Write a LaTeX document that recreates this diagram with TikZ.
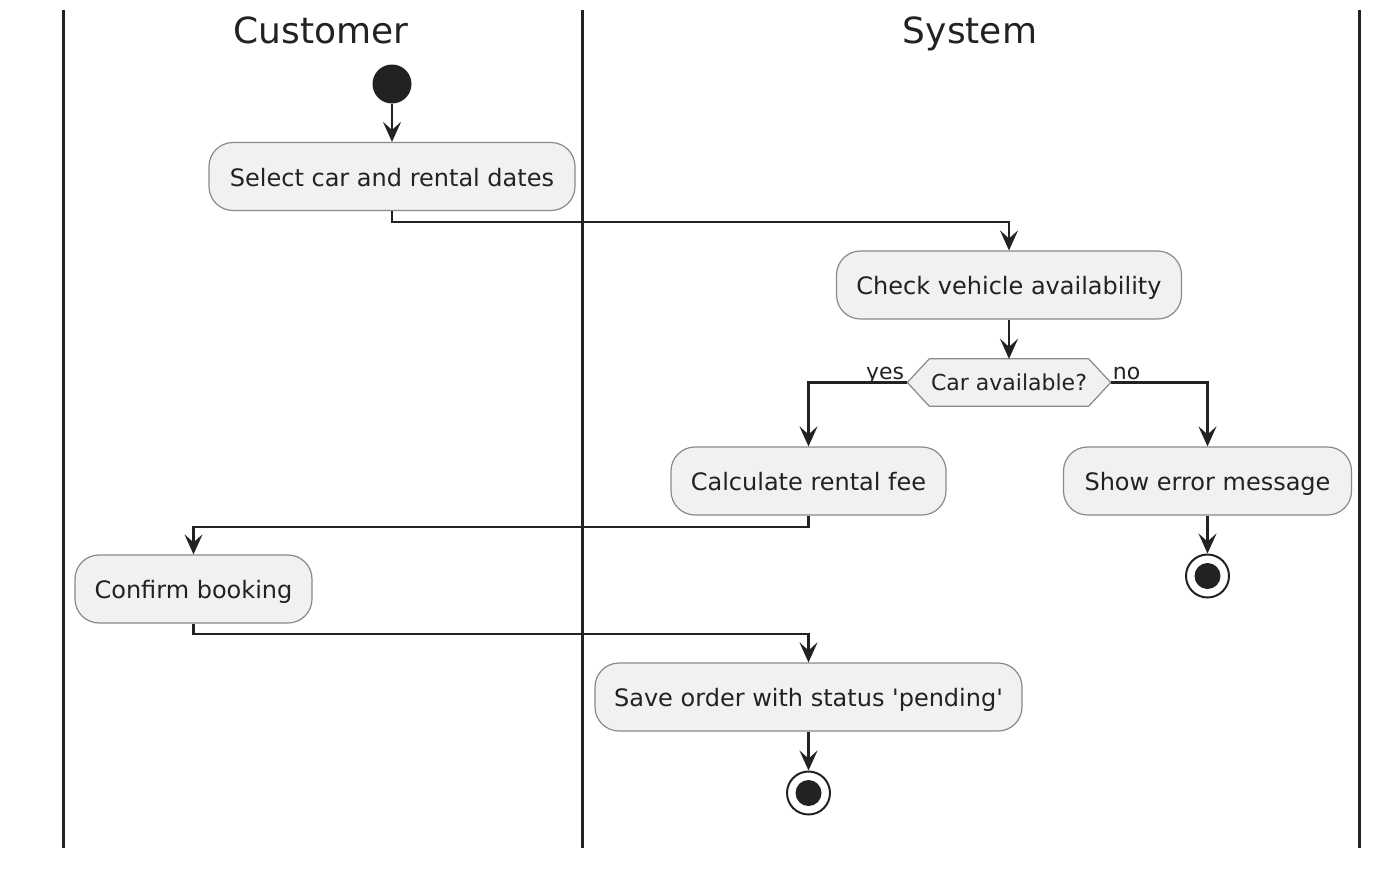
\documentclass[tikz,border=0pt]{standalone}
\usepackage{fontspec}
\setmainfont{DejaVu Sans}
\usetikzlibrary{arrows.meta,backgrounds}
\definecolor{boxfill}{HTML}{F1F1F1}
\definecolor{boxline}{HTML}{8A8A8A}
\definecolor{ink}{HTML}{222222}
\begin{document}
\begin{tikzpicture}[x=1pt,y=-1pt,
 act/.style={draw=boxline, line width=1.2pt, fill=boxfill, rounded corners=24pt, minimum height=68pt, inner sep=0pt, font=\fontsize{24}{28}\selectfont, text=ink, text height=21pt, text depth=2pt},
 flow/.style={draw=ink, line width=2.2pt, -{Stealth[length=20pt,width=18pt,inset=8pt]}},
 lane/.style={draw=ink, line width=3pt},
 lanetitle/.style={font=\fontsize{36}{42}\selectfont, text=ink, text height=26pt, text depth=4pt, inner sep=0pt},
 lbl/.style={font=\fontsize{22}{26}\selectfont, text=ink, inner sep=0pt},
 startdot/.style={circle, fill=ink, minimum size=39pt, inner sep=0pt},
 endring/.style={circle, draw=ink, line width=2pt, fill=white, minimum size=43pt, inner sep=0pt},
 enddot/.style={circle, fill=ink, minimum size=26pt, inner sep=0pt}]

\useasboundingbox (0,0) rectangle (1390,868);

% swimlanes
\draw[lane] (63,10) -- (63,848);
\draw[lane] (582,10) -- (582,848);
\draw[lane] (1359,10) -- (1359,848);
\node[lanetitle] (tcust) at (321,32) {Customer};
\node[lanetitle] (tsys) at (970,32) {System};

% nodes
\node[startdot] (start) at (392,84) {};
\node[act, minimum width=366pt] (sel) at (392,176.5) {Select car and rental dates};
\node[act, minimum width=345pt] (chk) at (1009,285) {Check vehicle availability};
\node[lbl, minimum width=203pt, minimum height=47pt, text height=17pt, text depth=2pt] (dec) at (1009,382.5) {Car available?};
\begin{scope}[on background layer]
\draw[draw=boxline, fill=boxfill, line width=1.2pt]
  (dec.west) -- ([xshift=22pt]dec.north west) -- ([xshift=-22pt]dec.north east)
  -- (dec.east) -- ([xshift=-22pt]dec.south east) -- ([xshift=22pt]dec.south west) -- cycle;
\end{scope}
\node[act, minimum width=275pt] (calc) at (808.5,481) {Calculate rental fee};
\node[act, minimum width=288pt] (err) at (1207.5,481) {Show error message};
\node[endring] (end1) at (1207.5,576) {};
\node[enddot] (end1in) at (end1) {};
\node[act, minimum width=237pt] (conf) at (193.5,589) {Confirm booking};
\node[act, minimum width=427pt] (save) at (808.5,697) {Save order with status \textquotesingle pending\textquotesingle};
\node[endring] (end2) at (808.5,793) {};
\node[enddot] (end2in) at (end2) {};

% connectors
\draw[flow] (start.south) -- (sel.north);
\draw[flow] (sel.south) -- ++(0,11) -| (chk.north);
\draw[flow] (chk.south) -- (dec.north);
\draw[flow] (dec.west) -| (calc.north);
\draw[flow] (dec.east) -| (err.north);
\node[lbl, anchor=base east] (lyes) at ([xshift=-3pt,yshift=3pt]dec.west) {yes};
\node[lbl, anchor=base west] (lno) at ([xshift=2pt,yshift=3pt]dec.east) {no};
\draw[flow] (err.south) -- (end1.north);
\draw[flow] (calc.south) -- ++(0,11) -| (conf.north);
\draw[flow] (conf.south) -- ++(0,10) -| (save.north);
\draw[flow] (save.south) -- (end2.north);
\end{tikzpicture}
\end{document}
